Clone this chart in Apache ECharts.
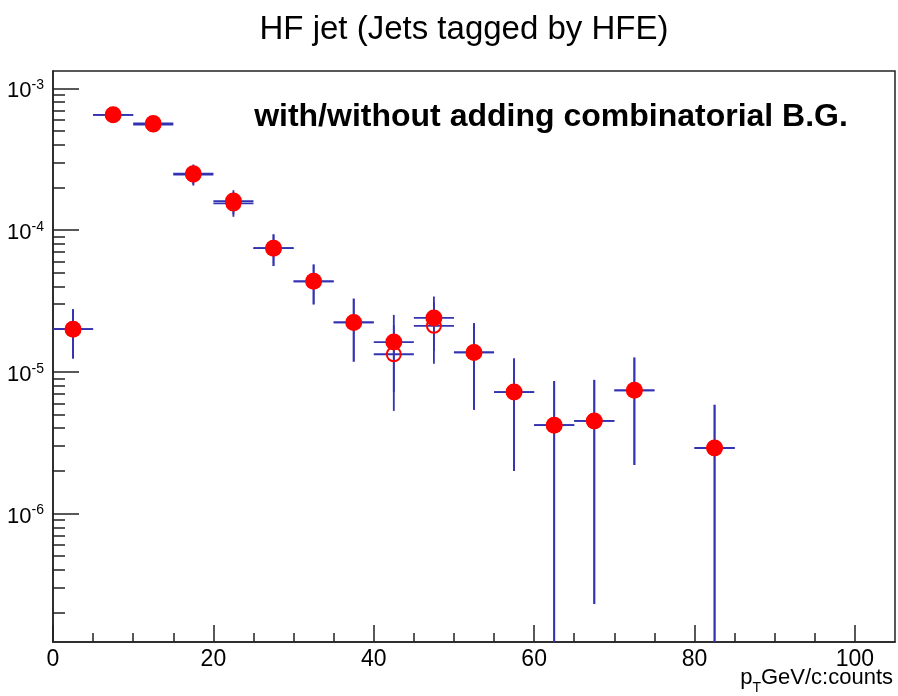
<!DOCTYPE html>
<html>
<head>
<meta charset="utf-8">
<script src="https://cdn.jsdelivr.net/npm/echarts@6/dist/echarts.min.js"></script>
<style>
html,body{margin:0;padding:0;background:#fff;}
#chart{width:898px;height:696px;}
</style>
</head>
<body>
<div id="chart"></div>
<script>
// ---- data ----
var binCenters = [2.5, 7.5, 12.5, 17.5, 22.5, 27.5, 32.5, 37.5, 42.5, 47.5, 52.5, 57.5, 62.5, 67.5, 72.5, 82.5];
var binHalfWidth = 2.5;
var withBG    = [2.0e-5, 6.5e-4, 5.65e-4, 2.50e-4, 1.60e-4, 7.45e-5, 4.35e-5, 2.23e-5, 1.62e-5, 2.40e-5, 1.37e-5, 7.2e-6, 4.2e-6, 4.5e-6, 7.4e-6, 2.9e-6];
var withBGErr = [0.76e-5, 0.8e-4, 0.45e-4, 0.40e-4, 0.31e-4, 1.87e-5, 1.36e-5, 1.05e-5, 0.90e-5, 1.00e-5, 0.83e-5, 5.2e-6, 4.4e-6, 4.27e-6, 5.2e-6, 2.95e-6];
var withoutBG    = [2.0e-5, 6.5e-4, 5.55e-4, 2.46e-4, 1.54e-4, 7.45e-5, 4.35e-5, 2.23e-5, 1.33e-5, 2.11e-5, 1.37e-5, 7.2e-6, 4.2e-6, 4.5e-6, 7.4e-6, 2.9e-6];
var withoutBGErr = [0.76e-5, 0.8e-4, 0.45e-4, 0.40e-4, 0.30e-4, 1.87e-5, 1.36e-5, 1.05e-5, 0.80e-5, 0.97e-5, 0.83e-5, 5.2e-6, 4.4e-6, 4.27e-6, 5.2e-6, 2.95e-6];

var xMajorTicks = [0, 20, 40, 60, 80, 100];
var xMinorTicks = [5, 10, 15, 25, 30, 35, 45, 50, 55, 65, 70, 75, 85, 90, 95];
var yDecades = [-6, -5, -4, -3];          // tick labels 10^n
var yMinorMultipliers = [2, 3, 4, 5, 6, 7, 8, 9];

var titleText = 'HF jet (Jets tagged by HFE)';
var noteText = 'with/without adding combinatorial B.G.';

// ---- axis ranges (log10 of value on y) ----
var X_MIN = 0, X_MAX = 105;
var Y_MIN = -6.906, Y_MAX = -2.878;

var FONT = "'Liberation Sans', Arial, Helvetica, sans-serif";

var yMinorTicks = [];
[-7, -6, -5, -4, -3].forEach(function (n) {
  yMinorMultipliers.forEach(function (k) {
    var v = n + Math.log10(k);
    if (v > Y_MIN && v < Y_MAX) yMinorTicks.push(v);
  });
});

function buildErr(vals, errs) {
  return binCenters.map(function (x, i) {
    var v = vals[i], e = errs[i];
    var lo = v - e;
    return [x, Math.log10(v), Math.log10(v + e), lo > 0 ? Math.log10(lo) : Y_MIN];
  });
}
function buildPts(vals) {
  return binCenters.map(function (x, i) { return [x, Math.log10(vals[i])]; });
}

var ERR_COLOR = '#3333b2';
function renderErr(params, api) {
  var x = api.value(0), y = api.value(1), hi = api.value(2), lo = api.value(3);
  lo = Math.max(lo, Y_MIN); hi = Math.min(hi, Y_MAX);
  var pL = api.coord([x - binHalfWidth, y]);
  var pR = api.coord([x + binHalfWidth, y]);
  var pT = api.coord([x, hi]);
  var pB = api.coord([x, lo]);
  var st = { stroke: ERR_COLOR, lineWidth: 1.8, fill: null };
  return {
    type: 'group',
    children: [
      { type: 'line', shape: { x1: pL[0], y1: pL[1], x2: pR[0], y2: pR[1] }, style: st },
      { type: 'line', shape: { x1: pT[0], y1: pT[1], x2: pB[0], y2: pB[1] }, style: st }
    ]
  };
}

var chart = echarts.init(document.getElementById('chart'), null, { renderer: 'canvas' });

var gridBox = { left: 53, top: 71, width: 842, height: 571 };
var axisColor = '#222';

var option = {
  animation: false,
  backgroundColor: '#fff',
  grid: {
    left: gridBox.left, top: gridBox.top, width: gridBox.width, height: gridBox.height,
    show: true, borderColor: axisColor, borderWidth: 1.5, backgroundColor: 'transparent'
  },
  xAxis: [
    {
      type: 'value', min: X_MIN, max: X_MAX, position: 'bottom',
      axisLine: { show: true, lineStyle: { color: axisColor, width: 1.5 } },
      axisTick: { show: true, inside: true, length: 17, customValues: xMajorTicks, lineStyle: { color: axisColor, width: 1.5 } },
      axisLabel: { show: true, customValues: xMajorTicks, margin: 6, color: '#000', fontSize: 23, fontFamily: FONT },
      splitLine: { show: false }
    },
    {
      type: 'value', min: X_MIN, max: X_MAX, position: 'bottom',
      axisLine: { show: false },
      axisTick: { show: true, inside: true, length: 9, customValues: xMinorTicks, lineStyle: { color: axisColor, width: 1.5 } },
      axisLabel: { show: false },
      splitLine: { show: false }
    }
  ],
  yAxis: [
    {
      type: 'value', min: Y_MIN, max: Y_MAX, position: 'left',
      axisLine: { show: true, lineStyle: { color: axisColor, width: 1.5 } },
      axisTick: { show: true, inside: true, length: 26, customValues: yDecades, lineStyle: { color: axisColor, width: 1.5 } },
      axisLabel: {
        show: true, customValues: yDecades, margin: 9, padding: [6, 0, 0, 0],
        formatter: function (v) { return '{b|10}{s|' + Math.round(v) + '}'; },
        rich: {
          b: { fontSize: 22, fontFamily: FONT, color: '#000', lineHeight: 26 },
          s: { fontSize: 14, fontFamily: FONT, color: '#000', lineHeight: 14, verticalAlign: 'top' }
        }
      },
      splitLine: { show: false }
    },
    {
      type: 'value', min: Y_MIN, max: Y_MAX, position: 'left',
      axisLine: { show: false },
      axisTick: { show: true, inside: true, length: 12, customValues: yMinorTicks, lineStyle: { color: axisColor, width: 1.5 } },
      axisLabel: { show: false },
      splitLine: { show: false }
    }
  ],
  series: [
    {
      name: 'with B.G. errors', type: 'custom', xAxisIndex: 0, yAxisIndex: 0,
      renderItem: renderErr, data: buildErr(withBG, withBGErr),
      encode: { x: 0, y: [1, 2, 3] }, silent: true
    },
    {
      name: 'with B.G.', type: 'scatter', xAxisIndex: 0, yAxisIndex: 0,
      data: buildPts(withBG), symbol: 'circle', symbolSize: 17,
      itemStyle: { color: '#ff0000', opacity: 1 }, silent: true
    },
    {
      name: 'without B.G. errors', type: 'custom', xAxisIndex: 0, yAxisIndex: 0,
      renderItem: renderErr, data: buildErr(withoutBG, withoutBGErr),
      encode: { x: 0, y: [1, 2, 3] }, silent: true
    },
    {
      name: 'without B.G.', type: 'scatter', xAxisIndex: 0, yAxisIndex: 0,
      data: buildPts(withoutBG), symbol: 'circle', symbolSize: 14,
      itemStyle: { color: 'rgba(0,0,0,0)', borderColor: '#ff0000', borderWidth: 2, opacity: 1 }, silent: true
    }
  ],
  graphic: [
    {
      type: 'text', x: 464, y: 30, silent: true,
      style: { text: titleText, fontSize: 33, fontFamily: FONT, fill: '#000', align: 'center', verticalAlign: 'middle' }
    },
    {
      type: 'text', x: 551, y: 117, silent: true,
      style: { text: noteText, fontSize: 32, fontWeight: 'bold', fontFamily: FONT, fill: '#000', align: 'center', verticalAlign: 'middle' }
    },
    {
      type: 'text', x: 893, y: 667, silent: true,
      style: {
        text: '{a|p}{sub|T}{a|GeV/c:counts}',
        align: 'right', verticalAlign: 'top',
        rich: {
          a: { fontSize: 22, fontFamily: FONT, fill: '#000', color: '#000', lineHeight: 22, verticalAlign: 'top' },
          sub: { fontSize: 14, fontFamily: FONT, fill: '#000', color: '#000', lineHeight: 14, padding: [14, 0, 0, 0], verticalAlign: 'top' }
        }
      }
    }
  ]
};

chart.setOption(option);
</script>
</body>
</html>
